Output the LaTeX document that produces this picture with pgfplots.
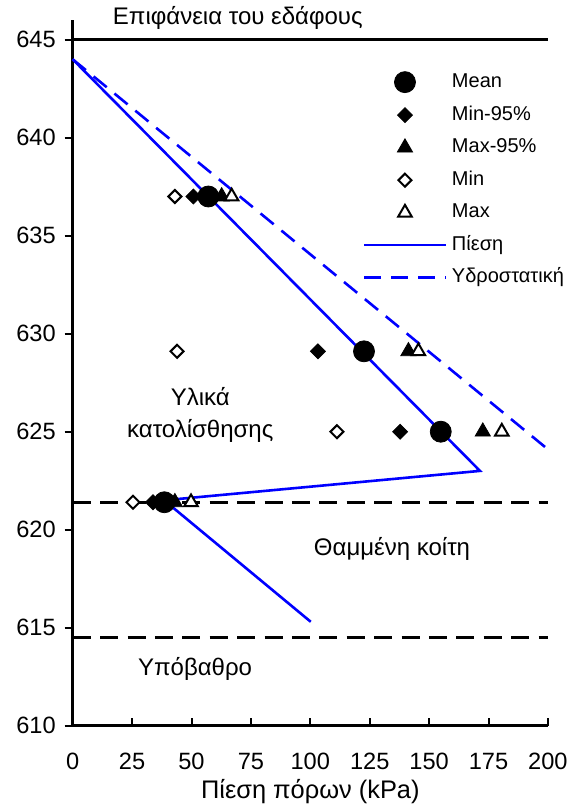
\documentclass[border=0pt]{standalone}
\usepackage{fontspec}
\setmainfont{Liberation Sans}
\usepackage{pgfplots}
\pgfplotsset{compat=1.18}
\pgfplotsset{
  markleg/.style={legend image code/.code={\draw[##1] plot coordinates {(20.35pt,0pt)};}},
  lineleg/.style={legend image code/.code={\draw[##1] (0pt,0pt) -- (40.7pt,0pt);}},
}
\begin{document}
\begin{tikzpicture}
\useasboundingbox (-36.35pt,-43.15pt) rectangle (251.15pt,362.85pt);
\begin{axis}[
  at={(0,0)}, anchor=south west,
  scale only axis, width=237.6pt, height=352.8pt,
  xmin=0, xmax=200, ymin=610, ymax=646,
  axis lines=left,
  axis line style={-, line width=1.3pt},
  xtick={0,25,...,200}, ytick={610,615,...,645},
  tick align=inside,
  major tick length=4pt,
  tick style={black, line width=1pt},
  y tick style={xshift=-4pt},
  /pgf/number format/assume math mode=true,
  ticklabel style={font=\fontsize{11.8}{13}\selectfont},
  xticklabel style={yshift=-10pt},
  yticklabel style={xshift=-5pt},
  xlabel={Πίεση πόρων (kPa)},
  xlabel style={font=\fontsize{12.7}{14}\selectfont, at={(axis description cs:0.5,0)}, anchor=center, yshift=-33pt},
  legend style={at={(0.610,0.9275)}, anchor=north west, draw=none, fill=none, inner sep=0pt,
    row sep=6.25pt, column sep=2.5pt, font=\fontsize{10}{12}\selectfont,
    nodes={inner sep=0pt, text height=7.5pt, text depth=2.5pt}},
  legend cell align=left,
  clip=false,
]
% ground surface and boundaries
\addplot[black, line width=1.5pt, forget plot] coordinates {(0,645) (200,645)};
\addplot[black, line width=1.6pt, dash pattern=on 9pt off 4.7pt, forget plot] coordinates {(0,621.4) (200,621.4)};
\addplot[black, line width=1.6pt, dash pattern=on 9pt off 4.7pt, forget plot] coordinates {(0,614.5) (200,614.5)};
% pressure lines
\addplot[blue, line width=1.3pt, forget plot] coordinates {(0,644) (171.4,623.0) (38.5,621.5) (100.2,615.3)};
\addplot[blue, line width=1.3pt, dash pattern=on 8.5pt off 5pt, forget plot] coordinates {(0,644) (200,624.1)};
% markers
\addplot[only marks, mark=*, mark size=5.25pt, black, markleg]
  coordinates {(57.1,637) (122.6,629.1) (154.9,625) (38.6,621.4)};
\addlegendentry{Mean}
\addplot[only marks, mark=square*, mark size=2.65pt, black, mark options={rotate=45}, markleg]
  coordinates {(50.8,637) (103.2,629.1) (137.8,625) (33.8,621.4)};
\addlegendentry{Min-95\%}
\addplot[only marks, mark=triangle*, mark size=4.4pt, black, markleg]
  coordinates {(62.7,637) (141.3,629.1) (172.6,625) (43,621.4)};
\addlegendentry{Max-95\%}
\addplot[only marks, mark=square*, mark size=2.3pt, black, mark options={rotate=45, fill=white, line width=1pt}, markleg]
  coordinates {(43,637) (43.9,629.1) (111.2,625) (25.4,621.4)};
\addlegendentry{Min}
\addplot[only marks, mark=triangle*, mark size=3.9pt, black, mark options={fill=white, line width=1pt}, markleg]
  coordinates {(66.9,637) (145.5,629.1) (180.6,625) (49.8,621.4)};
\addlegendentry{Max}
\addlegendimage{blue, line width=1.3pt, lineleg}
\addlegendentry{Πίεση}
\addlegendimage{blue, line width=1.3pt, dash pattern=on 8.5pt off 5pt, lineleg}
\addlegendentry{Υδροστατική}
% annotations
\node[font=\fontsize{12}{14}\selectfont, anchor=base] at (axis cs:69.5,645.75) {Επιφάνεια του εδάφους};
\node[font=\fontsize{12}{15.85}\selectfont, align=center] at (axis cs:53.7,625.85) {Υλικά\\κατολίσθησης};
\node[font=\fontsize{12}{14}\selectfont] at (axis cs:134.4,619.0) {Θαμμένη κοίτη};
\node[font=\fontsize{12}{14}\selectfont] at (axis cs:51.5,612.9) {Υπόβαθρο};
\end{axis}
\end{tikzpicture}
\end{document}
